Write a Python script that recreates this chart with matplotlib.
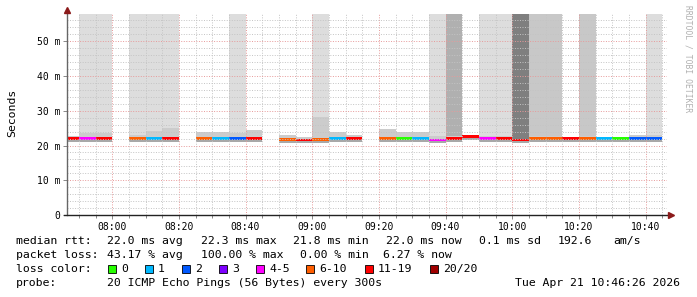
import matplotlib
matplotlib.use('Agg')
import matplotlib.pyplot as plt
from matplotlib.ticker import MultipleLocator, FuncFormatter
from matplotlib.patches import Rectangle

# 5-minute bins (start time); gaps are simply missing
bin_start = ['07:45', '07:50', '07:55', '08:05', '08:10', '08:15', '08:25', '08:30',
             '08:35', '08:40', '08:50', '08:55', '09:00', '09:05', '09:10', '09:20',
             '09:25', '09:30', '09:35', '09:40', '09:45', '09:50', '09:55', '10:00',
             '10:05', '10:10', '10:15', '10:20', '10:25', '10:30', '10:35', '10:40']
median_ms = [22.0, 22.0, 22.0, 22.0, 22.0, 22.0, 22.0, 22.0,
             22.1, 22.0, 21.7, 21.6, 21.7, 22.0, 22.0, 22.0,
             22.0, 22.0, 21.6, 21.9, 22.5, 21.9, 21.9, 21.6,
             22.0, 22.0, 21.9, 22.0, 22.0, 22.0, 22.1, 22.1]
# index into loss_labels
loss_cls = [6, 4, 6, 5, 1, 6, 5, 1,
            2, 6, 5, 6, 5, 1, 6, 5,
            0, 1, 4, 6, 6, 4, 6, 6,
            5, 5, 6, 5, 1, 0, 2, 2]
smoke_top = [22.6, 23.5, 23.5, 22.9, 24.3, 25.1, 23.9, 23.9,
             23.6, 24.4, 22.9, 22.4, 28.2, 23.9, 23.0, 24.6,
             24.0, 24.0, 22.6, 22.6, 23.0, 22.6, 22.6, 22.0,
             22.8, 22.8, 21.9, 22.8, 22.4, 22.4, 23.0, 23.0]
# smoke reaching the top of the graph: 0 none, 1 light .. 4 dark
upper_level = [0, 1, 1, 1, 1, 1, 0, 0,
               1, 0, 0, 0, 1, 0, 0, 0,
               0, 0, 1, 3, 0, 1, 1, 4,
               2, 2, 0, 2, 0, 0, 0, 1]

loss_labels = ['0', '1', '2', '3', '4-5', '6-10', '11-19', '20/20']
loss_colors = ['#26ff00', '#00b8ff', '#0059ff', '#7e00ff', '#ff00ff', '#ff5e00', '#ff0000', '#a00000']
upper_colors = [None, '#dddddd', '#c8c8c8', '#b0b0b0', '#7f7f7f']

t_start, t_end = 7 * 60 + 46 + 26 / 60, 10 * 60 + 46 + 26 / 60
y_max = 57.6
W, H = 697, 297


def to_min(s):
    h, m = s.split(':')
    return int(h) * 60 + int(m)


def fx(px):
    return px / W


def fy(py):
    return 1 - py / H


x = [to_min(s) for s in bin_start]

fig = plt.figure(figsize=(W / 100, H / 100), dpi=100)
ax = fig.add_axes([fx(67), fy(215.3), 600 / W, 201 / H])

mono = 'DejaVu Sans Mono'

# smoke
for xi, med, top, lvl in zip(x, median_ms, smoke_top, upper_level):
    if lvl:
        ax.bar(xi, y_max - top, bottom=top, width=5, align='edge',
               color=upper_colors[lvl], lw=0, zorder=1)
    ax.bar(xi, top - med, bottom=med, width=5, align='edge', color='#cccccc', lw=0, zorder=1.1)
    ax.bar(xi, 0.8, bottom=med - 1.0, width=5, align='edge', color='#a8a8a8', lw=0, zorder=1.1)

# median line coloured by loss
ax.bar(x, 0.8, bottom=[m - 0.4 for m in median_ms], width=5, align='edge',
       color=[loss_colors[c] for c in loss_cls], lw=0, zorder=1.5)

ax.set_xlim(t_start, t_end)
ax.set_ylim(0, y_max)

ax.xaxis.set_major_locator(MultipleLocator(20))
ax.xaxis.set_minor_locator(MultipleLocator(5))
ax.yaxis.set_major_locator(MultipleLocator(10))
ax.yaxis.set_minor_locator(MultipleLocator(2))
ax.xaxis.set_major_formatter(FuncFormatter(lambda v, p: f'{int(v // 60):02d}:{int(v % 60):02d}'))
ax.yaxis.set_major_formatter(FuncFormatter(lambda v, p: '0' if v == 0 else f'{v:.0f} m'))

ax.set_axisbelow(False)
ax.grid(which='minor', color='#c4c4c4', linestyle=(0, (1, 1.6)), lw=0.7)
ax.grid(which='major', color='#e79a9a', linestyle=(0, (1, 1.6)), lw=0.7)

ax.tick_params(which='both', direction='out', color='#888888', width=0.7)
ax.tick_params(which='major', length=3, labelsize=7.05, pad=2)
ax.tick_params(axis='x', which='minor', length=2)
ax.tick_params(axis='y', which='minor', length=0)
for lab in ax.get_xticklabels() + ax.get_yticklabels():
    lab.set_fontfamily(mono)

for sp in ax.spines.values():
    sp.set_visible(False)

# axes with arrows
ax.plot([0, 0], [0, 1.02], transform=ax.transAxes, color='#666666', lw=1, clip_on=False, zorder=5)
ax.plot([-0.005, 1.005], [0, 0], transform=ax.transAxes, color='#222222', lw=1, clip_on=False, zorder=5)
ax.plot(0, 1.02, marker='^', ms=4.5, color='#8b1a1a', transform=ax.transAxes, clip_on=False, zorder=6)
ax.plot(1.007, 0, marker='>', ms=4.5, color='#8b1a1a', transform=ax.transAxes, clip_on=False, zorder=6)

fig.text(fx(12), fy(113), 'Seconds', rotation=90, ha='center', va='center',
         fontfamily=mono, fontsize=8.25)
fig.text(fx(688), fy(5), 'RRDTOOL / TOBI OETIKER', rotation=270, ha='center', va='top',
         fontfamily=mono, fontsize=5.8, color='#b0b0b0')

# legend lines
fs = 8.25
line1 = [('median rtt:', 16), ('22.0 ms avg', 107), ('22.3 ms max', 201), ('21.8 ms min', 293),
         ('22.0 ms now', 386), ('0.1 ms sd', 479), ('192.6', 558), ('am/s', 613)]
line2 = [('packet loss:', 16), ('43.17 % avg', 107), ('100.00 % max', 201),
         ('0.00 % min', 300), ('6.27 % now', 383)]
for txt, px in line1:
    fig.text(fx(px), fy(241), txt, ha='left', va='center', fontfamily=mono, fontsize=fs)
for txt, px in line2:
    fig.text(fx(px), fy(255), txt, ha='left', va='center', fontfamily=mono, fontsize=fs)

fig.text(fx(16), fy(269), 'loss color:', ha='left', va='center', fontfamily=mono, fontsize=fs)
square_x = [108, 145, 182, 219, 256, 306, 365, 430]
for sx, lab, col in zip(square_x, loss_labels, loss_colors):
    fig.add_artist(Rectangle((fx(sx), fy(273)), 8 / W, 8 / H, transform=fig.transFigure,
                             facecolor=col, edgecolor='black', lw=0.6))
    fig.text(fx(sx + 13), fy(269), lab, ha='left', va='center', fontfamily=mono, fontsize=fs)

fig.text(fx(16), fy(283), 'probe:', ha='left', va='center', fontfamily=mono, fontsize=fs)
fig.text(fx(107), fy(283), '20 ICMP Echo Pings (56 Bytes) every 300s', ha='left', va='center',
         fontfamily=mono, fontsize=fs)
fig.text(fx(680), fy(283), 'Tue Apr 21 10:46:26 2026', ha='right', va='center',
         fontfamily=mono, fontsize=fs)

fig.savefig('out.png', dpi=100)
plt.close('all')
